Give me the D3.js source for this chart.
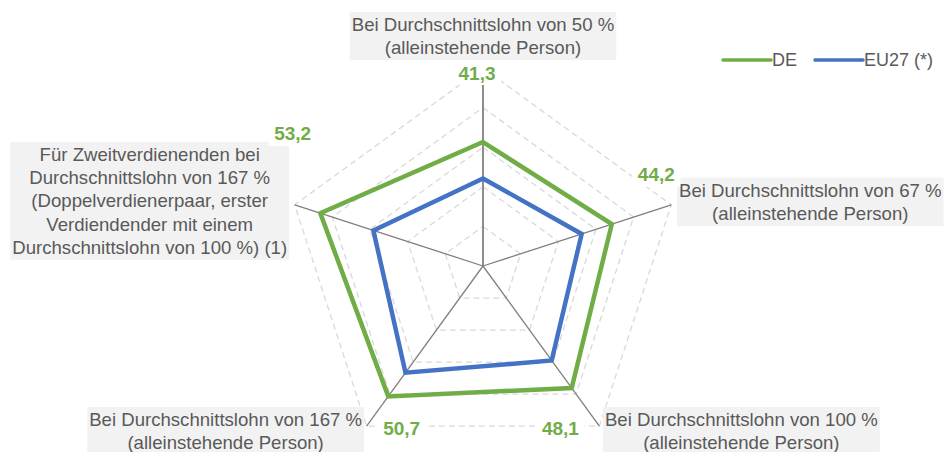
<!DOCTYPE html>
<html>
<head>
<meta charset="utf-8">
<script src="https://cdn.jsdelivr.net/npm/d3@7"></script>
<style>
  body { margin: 0; background: #fff; }
  svg text { font-family: "Liberation Sans", Arial, sans-serif; }
</style>
</head>
<body>
<div id="chart-area"></div>
<script>
// Categories (clockwise from top), one string per axis, lines split by "\n"
var categories = [
    "Bei Durchschnittslohn von 50 %\n(alleinstehende Person)",
    "Bei Durchschnittslohn von 67 %\n(alleinstehende Person)",
    "Bei Durchschnittslohn von 100 %\n(alleinstehende Person)",
    "Bei Durchschnittslohn von 167 %\n(alleinstehende Person)",
    "Für Zweitverdienenden bei\nDurchschnittslohn von 167 %\n(Doppelverdienerpaar, erster\nVerdiendender mit einem\nDurchschnittslohn von 100 %) (1)"
];
var seriesNames = ["DE", "EU27 (*)"];
var deValues = [41.3, 44.2, 48.1, 50.7, 53.2];
var euValues = [32.1, 36.2, 39.5, 43.3, 39.1];
var ringTicks = [20, 30, 40, 50, 60];

// Layout / style (not data)
var width = 944, height = 452;
var cx = 483, cy = 266, radius = 198;
var colors = ["#70AD47", "#4472C4"];
var textGray = "#595959";
// box centre offset from outer vertex, per axis
var boxOffsets = [[0, -32], [139, -3], [142, 5], [-141, 5], [-145, -4]];
// DE value label offset from outer vertex, per axis
var valueOffsets = [[-6, 5], [-15, -30], [-39, 2], [35, 2], [-2, -71]];

var svg = d3.select("#chart-area")
    .append("svg")
    .attr("width", width)
    .attr("height", height);

var rScale = d3.scaleLinear()
    .domain([10, 60])
    .range([0, radius]);

var angleScale = d3.scaleLinear()
    .domain([0, categories.length])
    .range([0, 2 * Math.PI]);

function point(i, v) {
    var a = angleScale(i), r = rScale(v);
    return [cx + r * Math.sin(a), cy - r * Math.cos(a)];
}

var idx = d3.range(categories.length);

// dashed grid rings
svg.append("g").selectAll("path")
    .data(ringTicks)
    .enter()
    .append("path")
    .attr("d", function(t) {
        return d3.line()(idx.map(function(i) { return point(i, t); })) + "Z";
    })
    .attr("fill", "none")
    .attr("stroke", "#d9d9d9")
    .attr("stroke-width", 1.3)
    .attr("stroke-dasharray", "6,4");

// spokes
svg.append("g").selectAll("line")
    .data(idx)
    .enter()
    .append("line")
    .attr("x1", cx).attr("y1", cy)
    .attr("x2", function(i) { return point(i, 60)[0]; })
    .attr("y2", function(i) { return point(i, 60)[1]; })
    .attr("stroke", function(i) { return i === 0 ? "#8c8c8c" : "#7f7f7f"; })
    .attr("stroke-width", function(i) { return i === 0 ? 2 : 1.3; });

// series
var radarLine = d3.line()
    .x(function(d, i) { return point(i, d)[0]; })
    .y(function(d, i) { return point(i, d)[1]; })
    .curve(d3.curveLinearClosed);

svg.append("g").selectAll("path")
    .data([euValues, deValues])
    .enter()
    .append("path")
    .attr("d", radarLine)
    .attr("fill", "none")
    .attr("stroke", function(d, i) { return i === 0 ? colors[1] : colors[0]; })
    .attr("stroke-width", 4.5)
    .attr("stroke-linejoin", "miter");

// category label boxes
var lineH = 23.2;
idx.forEach(function(i) {
    var v = point(i, 60);
    var bx = v[0] + boxOffsets[i][0], by = v[1] + boxOffsets[i][1];
    var lines = categories[i].split("\n");
    var g = svg.append("g");
    var rect = g.append("rect").attr("fill", "#f2f2f2");
    var txt = g.append("text")
        .attr("text-anchor", "middle")
        .attr("fill", textGray)
        .style("font-size", "18.6px");
    var top = by - lines.length * lineH / 2;
    lines.forEach(function(l, k) {
        txt.append("tspan")
            .attr("x", bx)
            .attr("y", top + lineH * k + lineH / 2)
            .attr("dy", "0.35em")
            .text(l);
    });
    var bb = txt.node().getBBox();
    rect.attr("x", bx - bb.width / 2 - 2)
        .attr("y", top - 1)
        .attr("width", bb.width + 4)
        .attr("height", lines.length * lineH + 2);
});

// DE value labels (white backing hides grid underneath)
var valueLabels = svg.append("g").selectAll("g")
    .data(deValues)
    .enter()
    .append("g")
    .attr("transform", function(d, i) {
        var p = point(i, 60);
        return "translate(" + (p[0] + valueOffsets[i][0]) + "," + (p[1] + valueOffsets[i][1]) + ")";
    });

valueLabels.append("rect")
    .attr("x", -24).attr("y", -12)
    .attr("width", 48).attr("height", 24)
    .attr("fill", "#fff");

valueLabels.append("text")
    .attr("dy", "0.35em")
    .attr("text-anchor", "middle")
    .attr("fill", colors[0])
    .style("font-size", "19px")
    .style("font-weight", "bold")
    .text(function(d) { return d3.format(".1f")(d).replace(".", ","); });

// legend
var legendX = [723, 815];
var legend = svg.append("g").selectAll("g")
    .data(seriesNames)
    .enter()
    .append("g")
    .attr("transform", function(d, i) { return "translate(" + legendX[i] + ",60)"; });

legend.append("line")
    .attr("x1", 0).attr("x2", 48)
    .attr("stroke", function(d, i) { return colors[i]; })
    .attr("stroke-width", 3.5)
    .attr("stroke-linecap", "round");

legend.append("text")
    .attr("x", 49)
    .attr("dy", "0.35em")
    .attr("fill", textGray)
    .style("font-size", "18px")
    .text(function(d) { return d; });
</script>
</body>
</html>
